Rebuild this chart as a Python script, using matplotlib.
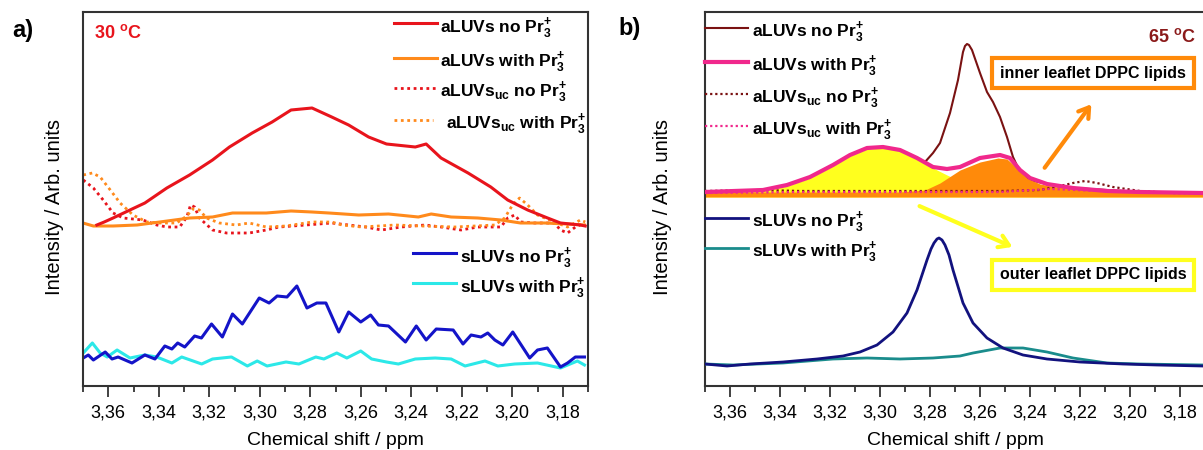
import matplotlib
matplotlib.use("Agg")
import matplotlib.pyplot as plt
from matplotlib.lines import Line2D
from matplotlib.ticker import MultipleLocator, FuncFormatter

plt.rcParams['font.family'] = ['Liberation Sans', 'DejaVu Sans']
plt.rcParams['mathtext.fontset'] = 'custom'
plt.rcParams['mathtext.rm'] = 'Liberation Sans'
plt.rcParams['mathtext.bf'] = 'Liberation Sans:bold'
plt.rcParams['lines.solid_joinstyle'] = 'round'

# ---------------- panel a (30 C) ----------------
a_red_x = [3.3645, 3.3616, 3.3581, 3.3514, 3.3455, 3.3368, 3.3278, 3.3187, 3.312, 3.303, 3.2951, 3.2876, 3.2793, 3.2715,
           3.2648, 3.2569, 3.2498, 3.2384, 3.2341, 3.2282, 3.2175, 3.2085, 3.2018, 3.1939, 3.186, 3.1809, 3.173, 3.1711]
a_red_y = [160, 163, 167, 175, 182, 197, 210, 225, 238, 252, 263, 275, 277, 268,
           260, 248, 241, 238, 241, 227, 212, 198, 185, 175, 167, 162, 160, 159]

a_orange_x = [3.37, 3.3659, 3.3581, 3.3486, 3.3396, 3.3278, 3.3187, 3.3108, 3.2974, 3.2876, 3.2793, 3.2726,
              3.2608, 3.249, 3.2372, 3.2321, 3.2242, 3.2136, 3.2045, 3.1967, 3.1872, 3.1781, 3.1714]
a_orange_y = [162, 159, 159, 160, 163, 167, 168, 172, 172, 174, 173, 172,
              170, 171, 168, 171, 168, 167, 165, 162, 162, 161, 160]

a_red_uc_x = [3.3699, 3.3659, 3.362, 3.3581, 3.3541, 3.3463, 3.3408, 3.3368, 3.3317, 3.3289, 3.3274, 3.3258, 3.3239,
              3.3187, 3.3132, 3.3042, 3.2974, 3.2923, 3.2817, 3.2715, 3.2648, 3.2581, 3.2518, 3.2439, 3.2345,
              3.2282, 3.2203, 3.2136, 3.2045, 3.2018, 3.199, 3.1967, 3.1912, 3.1833, 3.1809, 3.1781, 3.175, 3.1714]
a_red_uc_y = [205, 197, 185, 172, 167, 165, 160, 158, 158, 168, 180, 178, 167,
              155, 152, 152, 155, 158, 160, 162, 160, 158, 155, 158, 160,
              158, 155, 158, 158, 167, 170, 163, 162, 162, 155, 152, 158, 162]

a_orange_uc_x = [3.3699, 3.3663, 3.3632, 3.3592, 3.3553, 3.3502, 3.3447, 3.3396, 3.3329, 3.3289, 3.3266, 3.3239,
                 3.3211, 3.316, 3.3093, 3.3042, 3.2974, 3.2896, 3.2793, 3.2715, 3.2675, 3.2597, 3.2463, 3.236,
                 3.2227, 3.2148, 3.2069, 3.203, 3.1999, 3.1971, 3.1939, 3.19, 3.1833, 3.1781, 3.173, 3.1711]
a_orange_uc_y = [210, 212, 208, 195, 182, 170, 163, 162, 162, 169, 176, 175,
                 167, 162, 160, 162, 158, 159, 163, 163, 160, 158, 160, 159,
                 158, 159, 160, 167, 180, 187, 180, 170, 163, 158, 165, 163]

a_blue_x = [3.3699, 3.3679, 3.3659, 3.3612, 3.3585, 3.3561, 3.3506, 3.3455, 3.3415, 3.3376, 3.3348, 3.3325, 3.3297,
            3.3258, 3.3231, 3.3191, 3.3148, 3.3108, 3.3069, 3.3002, 3.2963, 3.2931, 3.2892, 3.2853, 3.2813, 3.2774,
            3.2738, 3.2687, 3.2648, 3.26, 3.2561, 3.253, 3.249, 3.2423, 3.238, 3.2341, 3.2301, 3.2234, 3.2195,
            3.2163, 3.2124, 3.2097, 3.2069, 3.2037, 3.1998, 3.1931, 3.19, 3.1861, 3.1809, 3.1781, 3.175, 3.1714]
a_blue_y = [27, 30, 25, 33, 26, 28, 22, 30, 26, 39, 36, 42, 38,
            49, 47, 61, 48, 71, 61, 87, 82, 89, 88, 99, 77, 82,
            82, 53, 73, 63, 70, 60, 59, 43, 59, 45, 56, 55, 41,
            50, 48, 52, 45, 40, 53, 27, 35, 37, 18, 22, 28, 28]

a_cyan_x = [3.3699, 3.3663, 3.3632, 3.3604, 3.3565, 3.3514, 3.3455, 3.3408, 3.3348, 3.3309, 3.323, 3.3187, 3.3112,
            3.3049, 3.301, 3.2971, 3.2896, 3.2845, 3.2778, 3.2746, 3.2695, 3.2655, 3.26, 3.2557, 3.2498, 3.2451,
            3.2384, 3.2305, 3.2242, 3.2187, 3.2108, 3.2057, 3.199, 3.19, 3.1809, 3.1742, 3.1714]
a_cyan_y = [32, 42, 32, 28, 35, 27, 30, 28, 22, 28, 21, 26, 28,
            19, 24, 19, 23, 21, 28, 26, 32, 27, 34, 26, 23, 21,
            26, 27, 26, 19, 24, 19, 21, 22, 17, 24, 20]

# ---------------- panel b (65 C) ----------------
b_brown_x = [3.37, 3.34, 3.312, 3.3, 3.292, 3.286, 3.282, 3.2788, 3.276, 3.272, 3.2688, 3.2668, 3.266, 3.2652,
             3.2644, 3.2632, 3.26, 3.2572, 3.2548, 3.252, 3.2492, 3.2468, 3.244, 3.24, 3.2332, 3.2228, 3.2092,
             3.196, 3.1708]
b_brown_y = [194, 194, 195, 198, 206, 216, 224, 233, 243, 273, 306, 334, 340, 342,
             341, 336, 313, 294, 284, 269, 249, 229, 214, 206, 202, 198, 196,
             194, 193]

b_pink_x = [3.37, 3.3468, 3.3372, 3.328, 3.3188, 3.312, 3.3052, 3.2988, 3.292, 3.2852, 3.2788, 3.2732,
            3.268, 3.26, 3.252, 3.248, 3.244, 3.24, 3.2332, 3.2228, 3.2092, 3.196, 3.1708]
b_pink_y = [194, 196, 201, 209, 221, 231, 238, 239, 236, 228, 219, 217,
            219, 228, 231, 228, 216, 208, 202, 198, 195, 194, 193]

b_brown_uc_x = [3.37, 3.348, 3.332, 3.292, 3.252, 3.236, 3.228, 3.2228, 3.218, 3.2132, 3.2068, 3.196, 3.1828, 3.1708]
b_brown_uc_y = [195, 196, 195, 195, 195, 196, 200, 203, 205, 203, 199, 195, 193, 193]

b_pink_uc_x = [3.37, 3.332, 3.292, 3.252, 3.232, 3.212, 3.1708]
b_pink_uc_y = [193, 194, 194, 194, 197, 195, 193]

b_outer_x = [3.37, 3.3468, 3.3372, 3.328, 3.3188, 3.312, 3.3052, 3.2988, 3.292, 3.2852, 3.2788, 3.2732,
             3.268, 3.262, 3.256, 3.248, 3.1708]
b_outer_y = [193, 195, 200, 208, 220, 230, 237, 238, 235, 227, 218, 211,
             205, 199, 196, 194, 194]

b_inner_x = [3.37, 3.292, 3.282, 3.276, 3.268, 3.26, 3.2528, 3.2492, 3.2452, 3.2412, 3.236, 3.2292, 3.214,
             3.194, 3.1708]
b_inner_y = [194, 194, 196, 203, 216, 224, 228, 227, 218, 208, 202, 199, 196,
             194, 193]

b_navy_x = [3.37, 3.3612, 3.352, 3.3388, 3.3252, 3.3148, 3.308, 3.3012, 3.2948, 3.2892, 3.2852, 3.2812, 3.2796,
            3.2784, 3.2772, 3.2764, 3.2752, 3.274, 3.2724, 3.2708, 3.2668, 3.2628, 3.2572, 3.2508, 3.2428,
            3.2332, 3.22, 3.2028, 3.1892, 3.1708]
b_navy_y = [22, 20, 22, 24, 27, 30, 34, 41, 54, 73, 96, 126, 137,
            143, 147, 148, 146, 141, 131, 116, 83, 63, 48, 38, 31,
            27, 24, 22, 21, 20]

b_teal_x = [3.37, 3.3588, 3.3388, 3.3188, 3.3052, 3.292, 3.2788, 3.268, 3.2628, 3.252, 3.2428, 3.2332,
            3.2228, 3.2092, 3.196, 3.1708]
b_teal_y = [22, 21, 23, 27, 28, 27, 28, 30, 33, 38, 38, 34, 28, 23, 22, 21]

tick_fmt = FuncFormatter(lambda v, p: f"{v:.2f}".replace('.', ','))

W, H = 1203, 450
fig = plt.figure(figsize=(W / 100, H / 100), dpi=100)


def fx(x):
    return x / W


def fy(y):
    return 1 - y / H


def style_axes(ax):
    ax.set_xlim(3.37, 3.17)
    ax.xaxis.set_major_locator(MultipleLocator(0.02))
    ax.xaxis.set_minor_locator(MultipleLocator(0.01))
    ax.xaxis.set_major_formatter(tick_fmt)
    ax.tick_params(axis='x', which='major', direction='out', length=8, width=1.3, labelsize=13, pad=5,
                   color='#333333')
    ax.tick_params(axis='x', which='minor', direction='out', length=4, width=1.3, color='#333333')
    ax.tick_params(axis='y', left=False, labelleft=False)
    for s in ax.spines.values():
        s.set_linewidth(1.5)
        s.set_color('#333333')


def legend_row(x1, x2, xt, y, color, ls, lw, label):
    fig.add_artist(Line2D([fx(x1), fx(x2)], [fy(y), fy(y)], transform=fig.transFigure,
                          color=color, ls=ls, lw=lw))
    fig.text(fx(xt), fy(y), label, fontsize=12.5, fontweight='bold', ha='left', va='center_baseline')


pr = r"Pr$_{\mathbf{3}}^{\mathbf{+}}$"
uc = r"$_{\mathbf{uc}}$"
dots = (0, (1, 1.3))

# panel a
axA = fig.add_axes([fx(83), fy(386), 505 / W, 374 / H])
style_axes(axA)
axA.set_ylim(-1, 373)
axA.plot(a_red_uc_x, a_red_uc_y, color='#E8141C', lw=2, ls=dots)
axA.plot(a_orange_uc_x, a_orange_uc_y, color='#FF8A1C', lw=2, ls=dots)
axA.plot(a_orange_x, a_orange_y, color='#FF8A1C', lw=2.2)
axA.plot(a_red_x, a_red_y, color='#E8141C', lw=2.2)
axA.plot(a_cyan_x, a_cyan_y, color='#2CE8E8', lw=2.2)
axA.plot(a_blue_x, a_blue_y, color='#1414C8', lw=2.2)
axA.set_xlabel("Chemical shift / ppm", fontsize=14, labelpad=8)
fig.text(fx(55), fy(207), "Intensity / Arb. units", fontsize=14.5, rotation=90, ha='center', va='center')
fig.text(fx(118), fy(33), r"30 $^{\mathbf{o}}$C", fontsize=13, fontweight='bold', color='#E8141C',
         ha='center', va='center')
fig.text(fx(23), fy(30), "a)", fontsize=17, fontweight='bold', ha='center', va='center')

legend_row(394, 437, 440, 23, '#E8141C', '-', 2.2, "aLUVs no " + pr)
legend_row(394, 437, 440, 58, '#FF8A1C', '-', 2.2, "aLUVs with " + pr)
legend_row(394, 437, 440, 88, '#E8141C', dots, 2, "aLUVs" + uc + " no " + pr)
legend_row(394, 433, 446, 120, '#FF8A1C', dots, 2, "aLUVs" + uc + " with " + pr)
legend_row(413, 456, 460, 253, '#1414C8', '-', 2.2, "sLUVs no " + pr)
legend_row(413, 456, 460, 283, '#2CE8E8', '-', 2.2, "sLUVs with " + pr)

# panel b
axB = fig.add_axes([fx(705), fy(386), 500 / W, 374 / H])
style_axes(axB)
axB.set_ylim(0, 374)
axB.plot(b_brown_x, b_brown_y, color='#7A1212', lw=1.5, zorder=1)
axB.fill_between(b_outer_x, 189, b_outer_y, color='#FFFF1E', lw=0, zorder=2)
axB.fill_between(b_inner_x, 189, b_inner_y, color='#FF8A0A', lw=0, zorder=2.5)
axB.plot(b_brown_uc_x, b_brown_uc_y, color='#7A1212', lw=1.6, ls=dots, zorder=3)
axB.plot(b_pink_uc_x, b_pink_uc_y, color='#F0288C', lw=1.6, ls=dots, zorder=3)
axB.plot(b_pink_x, b_pink_y, color='#F0288C', lw=3, zorder=4)
axB.plot(b_teal_x, b_teal_y, color='#1A8C8C', lw=2, zorder=4)
axB.plot(b_navy_x, b_navy_y, color='#12127E', lw=2, zorder=4)
axB.set_xlabel("Chemical shift / ppm", fontsize=14, labelpad=8)
fig.text(fx(662), fy(207), "Intensity / Arb. units", fontsize=14.5, rotation=90, ha='center', va='center')
fig.text(fx(1172), fy(37), r"65 $^{\mathbf{o}}$C", fontsize=13, fontweight='bold', color='#8B1A1A',
         ha='center', va='center')
fig.text(fx(630), fy(28), "b)", fontsize=17, fontweight='bold', ha='center', va='center')

axB.text(3.2148, 313, "inner leaflet DPPC lipids", fontsize=11.5, fontweight='bold', ha='center', va='center',
         zorder=6, bbox=dict(boxstyle='square,pad=0.5', fc='white', ec='#FF8A0A', lw=3))
axB.text(3.2148, 111, "outer leaflet DPPC lipids", fontsize=11.5, fontweight='bold', ha='center', va='center',
         zorder=6, bbox=dict(boxstyle='square,pad=0.5', fc='white', ec='#FFFF1E', lw=3))
axB.annotate("", xy=(3.2148, 284), xytext=(3.2348, 216),
             arrowprops=dict(arrowstyle='->,head_length=0.7,head_width=0.45', color='#FF8A0A', lw=3), zorder=6)
axB.annotate("", xy=(3.246, 138), xytext=(3.2852, 181),
             arrowprops=dict(arrowstyle='->,head_length=0.7,head_width=0.45', color='#FFFF1E', lw=3), zorder=6)

legend_row(705, 748, 752, 28, '#7A1212', '-', 1.5, "aLUVs no " + pr)
legend_row(705, 748, 752, 62, '#F0288C', '-', 3, "aLUVs with " + pr)
legend_row(705, 748, 752, 94, '#7A1212', dots, 1.6, "aLUVs" + uc + " no " + pr)
legend_row(705, 748, 752, 126, '#F0288C', dots, 1.6, "aLUVs" + uc + " with " + pr)
legend_row(705, 748, 752, 218, '#12127E', '-', 2, "sLUVs no " + pr)
legend_row(705, 748, 752, 248, '#1A8C8C', '-', 2, "sLUVs with " + pr)

fig.savefig("out.png", dpi=100)
